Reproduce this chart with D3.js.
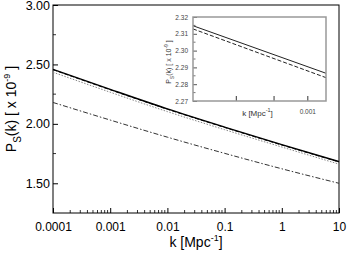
<!DOCTYPE html>
<html>
<head>
<meta charset="utf-8">
<script src="https://cdn.jsdelivr.net/npm/d3@7"></script>
<style>
  body { margin: 0; background: #fff; }
  text { font-family: "Liberation Sans", Arial, sans-serif; }
</style>
</head>
<body>
<div id="chart"></div>
<script>
// main panel data: k in Mpc^-1, P_S(k) in units of 1e-9
const kValues = [0.0001, 0.001, 0.01, 0.1, 1, 10];
const solidP = [2.458, 2.290, 2.126, 1.973, 1.825, 1.682];
const dashedP = [2.456, 2.287, 2.123, 1.970, 1.822, 1.680];
const dottedP = [2.434, 2.266, 2.103, 1.951, 1.805, 1.661];
const dashDotP = [2.180, 2.032, 1.888, 1.752, 1.622, 1.500];
const xTickLabels = ["0.0001", "0.001", "0.01", "0.1", "1", "10"];
const yTickValues = [1.50, 2.00, 2.50, 3.00];

// inset (zoom around k = 0.001)
const insetK = [0.0007, 0.00106];
const insetSolid = [2.3148, 2.2865];
const insetDashed = [2.3129, 2.2839];
const insetYTicks = [2.27, 2.28, 2.29, 2.30, 2.31, 2.32];
const insetXTicks = [0.0008, 0.0009, 0.001];

const width = 347, height = 253;
const margin = {top: 5, right: 8, bottom: 40, left: 53};

let svg = d3.select("#chart").append("svg")
  .attr("width", width)
  .attr("height", height);

let g = svg.append("g")
  .attr("transform", "translate(" + margin.left + "," + margin.top + ")");

const w = width - margin.left - margin.right;
const h = height - margin.top - margin.bottom;

const xScale = d3.scaleLog().domain([0.0001, 10]).range([0, w]);
const yScale = d3.scaleLinear().domain([1.25, 3.00]).range([h, 0]);

// minor ticks along the bottom
let minorX = [];
for (let e = -4; e < 1; e++) {
  for (let m = 2; m < 10; m++) minorX.push(m * Math.pow(10, e));
}
g.selectAll(".minx").data(minorX).enter().append("line")
  .attr("x1", d => xScale(d)).attr("x2", d => xScale(d))
  .attr("y1", h).attr("y2", h - 3)
  .attr("stroke", "#000").attr("stroke-width", 0.8);

// x axis (ticks inside)
let xAxis = g.append("g")
  .attr("transform", "translate(0," + h + ")")
  .call(d3.axisBottom(xScale).tickValues(kValues)
    .tickFormat((d, i) => xTickLabels[i])
    .tickSizeInner(-5).tickSizeOuter(0).tickPadding(9));
xAxis.select(".domain").remove();
xAxis.selectAll("text").attr("font-size", 12).attr("fill", "#000");

// y axis with minor ticks at 0.25
let yMinor = [1.75, 2.25, 2.75];
g.selectAll(".miny").data(yMinor).enter().append("line")
  .attr("x1", 0).attr("x2", 3)
  .attr("y1", d => yScale(d)).attr("y2", d => yScale(d))
  .attr("stroke", "#000").attr("stroke-width", 0.8);
let yAxis = g.append("g")
  .call(d3.axisLeft(yScale).tickValues(yTickValues)
    .tickFormat(d3.format(".2f"))
    .tickSizeInner(-5).tickSizeOuter(0).tickPadding(3));
yAxis.select(".domain").remove();
yAxis.selectAll("text").attr("font-size", 12.5).attr("fill", "#000");

// frame
g.append("rect")
  .attr("width", w).attr("height", h)
  .attr("fill", "none").attr("stroke", "#000").attr("stroke-width", 1);

const line = d3.line()
  .x((d, i) => xScale(kValues[i]))
  .y(d => yScale(d))
  .curve(d3.curveMonotoneX);

g.append("path").datum(dottedP).attr("d", line)
  .attr("fill", "none").attr("stroke", "#888").attr("stroke-width", 1)
  .attr("stroke-dasharray", "1.5,1.5");
g.append("path").datum(dashDotP).attr("d", line)
  .attr("fill", "none").attr("stroke", "#333").attr("stroke-width", 1)
  .attr("stroke-dasharray", "5,2,1.5,2");
g.append("path").datum(dashedP).attr("d", line)
  .attr("fill", "none").attr("stroke", "#000").attr("stroke-width", 1)
  .attr("stroke-dasharray", "4,2");
g.append("path").datum(solidP).attr("d", line)
  .attr("fill", "none").attr("stroke", "#000").attr("stroke-width", 1.4);

// axis titles
svg.append("text")
  .attr("x", margin.left + w / 2).attr("y", 247)
  .attr("text-anchor", "middle").attr("font-size", 14)
  .html('k [Mpc<tspan dy="-6" font-size="9">-1</tspan><tspan dy="6">]</tspan>');

svg.append("text")
  .attr("transform", "translate(16," + (margin.top + h / 2) + ") rotate(-90)")
  .attr("text-anchor", "middle").attr("font-size", 14)
  .html('P<tspan dy="5" font-size="10">S</tspan><tspan dy="-5">(k) [ x 10</tspan><tspan dy="-6" font-size="9">-9</tspan><tspan dy="6"> ]</tspan>');

// ---- inset ----
const inset = {x: 193, y: 17, w: 133, h: 84};
let ig = svg.append("g")
  .attr("transform", "translate(" + inset.x + "," + inset.y + ")");

const ixScale = d3.scaleLog().domain([0.0007, 0.00106]).range([0, inset.w]);
const iyScale = d3.scaleLinear().domain([2.27, 2.32]).range([inset.h, 0]);

ig.append("rect").attr("width", inset.w).attr("height", inset.h)
  .attr("fill", "#fff");

let iyMinor = [2.275, 2.285, 2.295, 2.305, 2.315];
ig.selectAll(".iminy").data(iyMinor).enter().append("line")
  .attr("x1", 0).attr("x2", 2.5)
  .attr("y1", d => iyScale(d)).attr("y2", d => iyScale(d))
  .attr("stroke", "#555").attr("stroke-width", 0.8);

let iyAxis = ig.append("g")
  .call(d3.axisLeft(iyScale).tickValues(insetYTicks)
    .tickFormat(d3.format(".2f"))
    .tickSizeInner(-4).tickSizeOuter(0).tickPadding(5));
iyAxis.select(".domain").remove();
iyAxis.selectAll("line").attr("stroke", "#555");
iyAxis.selectAll("text").attr("font-size", 6.5).attr("fill", "#444");

let ixAxis = ig.append("g")
  .attr("transform", "translate(0," + inset.h + ")")
  .call(d3.axisBottom(ixScale).tickValues(insetXTicks)
    .tickFormat(d => d === 0.001 ? "0.001" : "")
    .tickSizeInner(-5).tickSizeOuter(0).tickPadding(8));
ixAxis.select(".domain").remove();
ixAxis.selectAll("line").attr("stroke", "#333");
ixAxis.selectAll("text").attr("font-size", 6.5).attr("fill", "#444");

const iline = d3.line()
  .x((d, i) => ixScale(insetK[i]))
  .y(d => iyScale(d));

ig.append("path").datum(insetDashed).attr("d", iline)
  .attr("fill", "none").attr("stroke", "#222").attr("stroke-width", 1)
  .attr("stroke-dasharray", "4,2");
ig.append("path").datum(insetSolid).attr("d", iline)
  .attr("fill", "none").attr("stroke", "#222").attr("stroke-width", 1);

ig.append("rect").attr("width", inset.w).attr("height", inset.h)
  .attr("fill", "none").attr("stroke", "#999").attr("stroke-width", 1.5);

svg.append("text")
  .attr("x", inset.x + inset.w / 2 - 2).attr("y", 116)
  .attr("text-anchor", "middle").attr("font-size", 8).attr("fill", "#333")
  .html('k [Mpc<tspan dy="-4" font-size="5.5">-1</tspan><tspan dy="4">]</tspan>');

svg.append("text")
  .attr("transform", "translate(171," + (inset.y + 45) + ") rotate(-90)")
  .attr("text-anchor", "middle").attr("font-size", 7).attr("fill", "#333")
  .html('P<tspan dy="2.5" font-size="5">S</tspan><tspan dy="-2.5">(k) [ x 10</tspan><tspan dy="-3" font-size="5">-9</tspan><tspan dy="3"> ]</tspan>');
</script>
</body>
</html>
